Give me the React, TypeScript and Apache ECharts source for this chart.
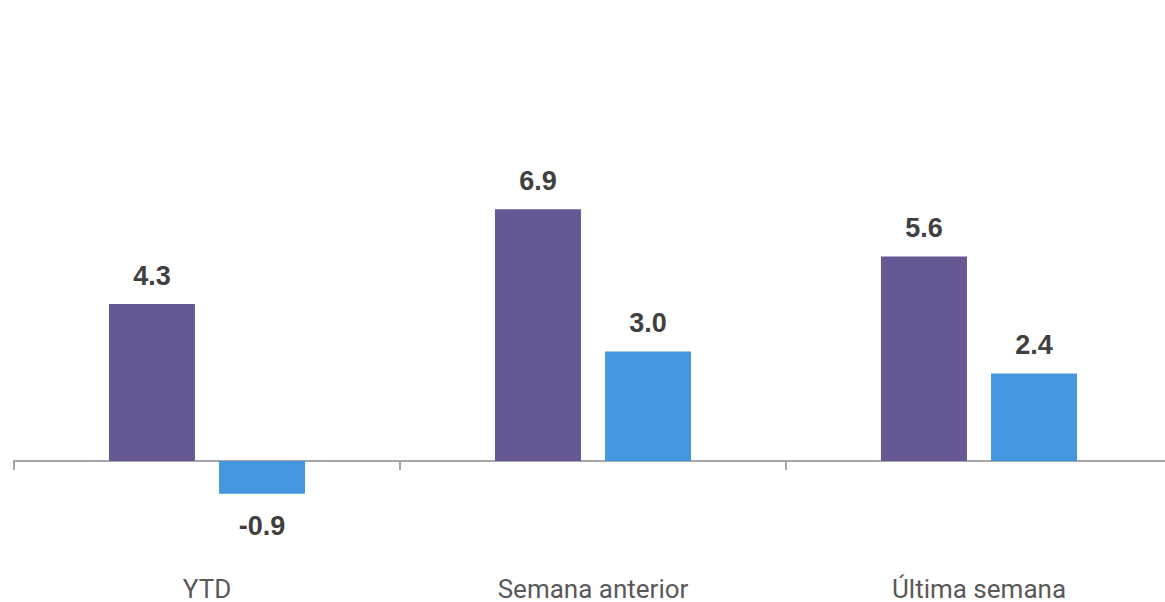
import React, { useEffect, useRef } from "react";
import * as echarts from "echarts";

const categories = ["YTD", "Semana anterior", "Última semana"];
const seriesA = [4.3, 6.9, 5.6];
const seriesB = [-0.9, 3.0, 2.4];

export default function App() {
  const ref = useRef<HTMLDivElement>(null);
  useEffect(() => {
    document.body.style.margin = "0";
    const chart = echarts.init(ref.current!, null, { renderer: "svg" });
    const label = {
      show: true,
      position: "top",
      distance: 15,
      formatter: (p: any) => Number(p.value).toFixed(1),
      fontFamily: "Liberation Sans, Arial, sans-serif",
      fontWeight: "bold",
      fontSize: 27,
      color: "#404040",
    };
    chart.setOption({
      animation: false,
      grid: { left: 14, right: 0, top: 23, bottom: 31.5, containLabel: false },
      xAxis: {
        type: "category",
        data: categories,
        axisLine: { onZero: true, lineStyle: { color: "#a6a6a6", width: 2 } },
        axisTick: { show: true, length: 9, lineStyle: { color: "#a6a6a6", width: 2 } },
        axisLabel: {
          color: "#595959",
          fontFamily: "Roboto, sans-serif",
          fontSize: 26,
          margin: 5,
        },
        position: "bottom",
      },
      yAxis: {
        type: "value",
        min: -3,
        max: 12,
        show: false,
        splitLine: { show: false },
      },
      series: [
        {
          type: "bar",
          data: seriesA,
          barWidth: 86,
          barGap: "28%",
          itemStyle: { color: "#675794" },
          label,
        },
        {
          type: "bar",
          data: seriesB.map((v) =>
            v < 0 ? { value: v, label: { position: "bottom", distance: 19 } } : v
          ),
          barWidth: 86,
          itemStyle: { color: "#4597E0" },
          label,
        },
      ],
    });
    return () => chart.dispose();
  }, []);
  return (
    <div style={{ width: 1165, height: 602, overflow: "hidden" }}>
      <div ref={ref} style={{ width: 1172, height: 602 }} />
    </div>
  );
}
